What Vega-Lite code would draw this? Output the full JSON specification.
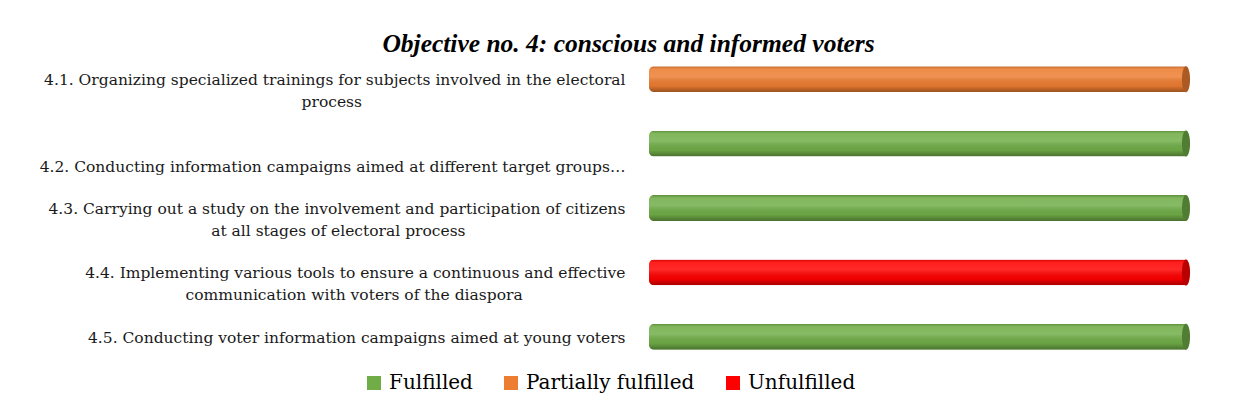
{
  "$schema": "https://vega.github.io/schema/vega-lite/v6.json",
  "autosize": "none",
  "width": 537,
  "height": 322,
  "padding": {"left": 649, "top": 47, "right": 63, "bottom": 48},
  "background": "white",
  "config": {
    "view": {"stroke": null},
    "font": "DejaVu Serif"
  },
  "title": {
    "text": "Objective no. 4: conscious and informed voters",
    "font": "Liberation Serif",
    "fontSize": 25.5,
    "fontWeight": "bold",
    "fontStyle": "italic",
    "color": "#000000",
    "anchor": "middle",
    "offset": -10,
    "dx": -289
  },
  "data": {
    "values": [
      {"task": "4.1. Organizing specialized trainings for subjects involved in the electoral|process\u2003\u2003\u2003\u2003\u2003\u2003\u2003\u2003\u2003\u2003\u2003\u2003\u2003\u2003\u2003\u2003\u2003\u200b", "value": 1, "status": "Partially fulfilled"},
      {"task": "|4.2. Conducting information campaigns aimed at different target groups…", "value": 1, "status": "Fulfilled"},
      {"task": "4.3. Carrying out a study on the  involvement and participation of citizens|at all stages of  electoral process\u2003\u2003\u2003\u2003\u2003\u2003\u2003\u2003\u2003\u2003\u00a0\u200b", "value": 1, "status": "Fulfilled"},
      {"task": "4.4. Implementing various tools to ensure a continuous and effective|communication  with voters of the diaspora\u2003\u2003\u2003\u2003\u2003\u2003\u00a0\u00a0\u200b", "value": 1, "status": "Unfulfilled"},
      {"task": "4.5. Conducting voter information  campaigns aimed at young voters", "value": 1, "status": "Fulfilled"}
    ]
  },
  "encoding": {
    "y": {
      "field": "task",
      "type": "nominal",
      "sort": null,
      "scale": {"paddingInner": 0.6, "paddingOuter": 0.3},
      "axis": {
        "title": null,
        "domain": false,
        "ticks": false,
        "labelExpr": "split(datum.value, '|')",
        "labelFont": "DejaVu Serif",
        "labelFontSize": 15.5,
        "labelLineHeight": 22,
        "labelColor": "#1a1a1a",
        "labelAlign": "right",
        "labelBaseline": "middle",
        "labelOffset": 1,
        "labelPadding": 24,
        "labelLimit": 700
      }
    },
    "x": {
      "field": "value",
      "type": "quantitative",
      "scale": {"domain": [0, 1]},
      "axis": null
    }
  },
  "layer": [
    {
      "mark": {"type": "bar", "cornerRadiusTopLeft": 5, "cornerRadiusBottomLeft": 5},
      "encoding": {
        "color": {
          "field": "status",
          "type": "nominal",
          "scale": {
            "domain": ["Fulfilled", "Partially fulfilled", "Unfulfilled"],
            "range": ["#70AD47", "#ED7D31", "#FF0000"]
          },
          "legend": {
            "title": null,
            "orient": "none",
            "direction": "horizontal",
            "legendX": -285,
            "legendY": 326,
            "symbolType": "square",
            "symbolSize": 196,
            "symbolStrokeWidth": 0,
            "labelFont": "DejaVu Serif",
            "labelFontSize": 20,
            "labelColor": "#000000",
            "labelOffset": 5,
            "columnPadding": 28,
            "labelLimit": 400
          }
        }
      }
    },
    {
      "mark": {
        "type": "bar",
        "cornerRadiusTopLeft": 5,
        "cornerRadiusBottomLeft": 5,
        "fill": {
          "gradient": "linear",
          "x1": 0, "y1": 0, "x2": 0, "y2": 1,
          "stops": [
            {"offset": 0, "color": "rgba(0,0,0,0.18)"},
            {"offset": 0.12, "color": "rgba(255,255,255,0.12)"},
            {"offset": 0.4, "color": "rgba(255,255,255,0.16)"},
            {"offset": 0.75, "color": "rgba(0,0,0,0.05)"},
            {"offset": 1, "color": "rgba(0,0,0,0.35)"}
          ]
        }
      },
      "encoding": {}
    },
    {
      "mark": {
        "type": "point",
        "filled": true,
        "opacity": 1,
        "size": 676,
        "shape": "M0,-1 A0.31,1 0 1,1 0,1 A0.31,1 0 1,1 0,-1 Z"
      },
      "encoding": {
        "color": {"field": "status", "type": "nominal", "legend": null}
      }
    },
    {
      "mark": {
        "type": "point",
        "filled": true,
        "color": "#000000",
        "opacity": 0.28,
        "size": 676,
        "shape": "M0,-1 A0.31,1 0 1,1 0,1 A0.31,1 0 1,1 0,-1 Z"
      },
      "encoding": {}
    }
  ]
}
